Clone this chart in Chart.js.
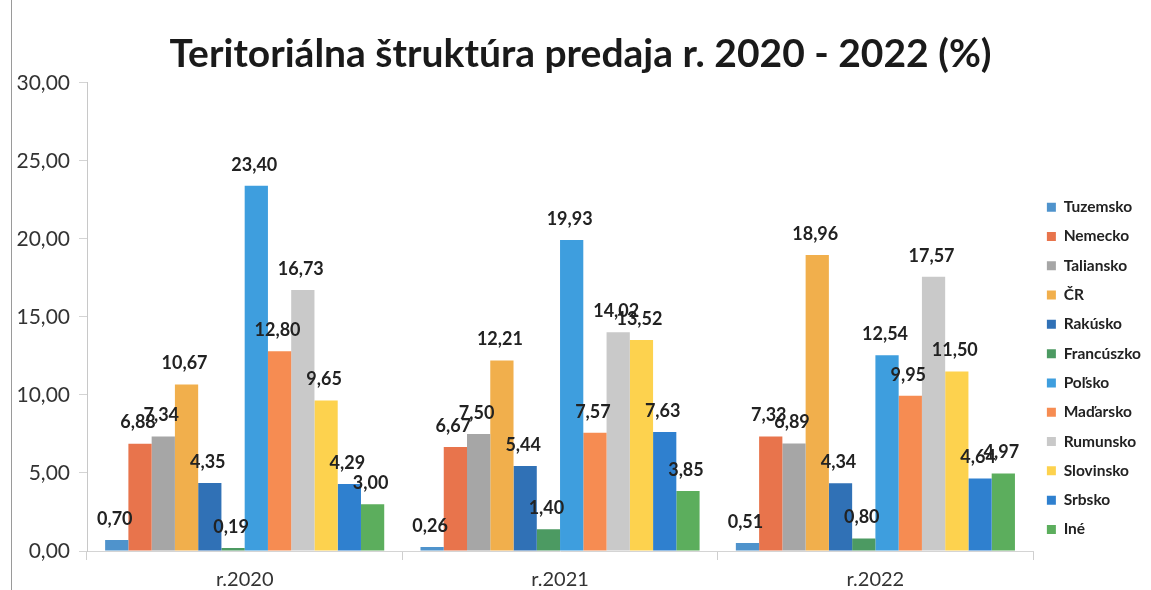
<!DOCTYPE html>
<html>
<head>
<meta charset="utf-8">
<script src="https://cdn.jsdelivr.net/npm/chart.js@4/dist/chart.umd.min.js"></script>
<style>
  html, body { margin: 0; padding: 0; background: #fff; }
  #wrap { position: relative; width: 1151px; height: 590px; }
  #edge { position: absolute; left: 11px; top: 0; width: 0; height: 590px; border-left: 1px solid #9a9a9a; }
  canvas { position: absolute; left: 0; top: 0; }
</style>
</head>
<body>
<div id="wrap">
  <canvas id="chart" width="1151" height="590"></canvas>
  <div id="edge"></div>
</div>
<script>
// ── Data ─────────────────────────────────────────────
const years = ['r.2020', 'r.2021', 'r.2022'];
const countries = ['Tuzemsko', 'Nemecko', 'Taliansko', 'ČR', 'Rakúsko', 'Francúszko',
  'Poľsko', 'Maďarsko', 'Rumunsko', 'Slovinsko', 'Srbsko', 'Iné'];
const share2020 = [0.70, 6.88, 7.34, 10.67, 4.35, 0.19, 23.40, 12.80, 16.73, 9.65, 4.29, 3.00];
const share2021 = [0.26, 6.67, 7.50, 12.21, 5.44, 1.40, 19.93, 7.57, 14.02, 13.52, 7.63, 3.85];
const share2022 = [0.51, 7.33, 6.89, 18.96, 4.34, 0.80, 12.54, 9.95, 17.57, 11.50, 4.64, 4.97];
const yTicks = [0, 5, 10, 15, 20, 25, 30];

const colors = ['#4F93CC', '#E8744C', '#A6A6A6', '#F1AF4C', '#3071B6', '#4C9A62',
  '#3E9EDE', '#F68C52', '#C9C9C9', '#FDD24E', '#2F80CF', '#5CAE5D'];

const fmt = v => v.toFixed(2).replace('.', ',');
const FONT = 'Lato, "Open Sans", sans-serif';

// labels drawn above each bar
const valueLabels = {
  id: 'valueLabels',
  afterDatasetsDraw(chart) {
    const ctx = chart.ctx;
    ctx.save();
    ctx.font = 'bold 18px ' + FONT;
    ctx.fillStyle = '#222';
    ctx.textAlign = 'center';
    ctx.textBaseline = 'middle';
    chart.data.datasets.forEach((ds, i) => {
      const meta = chart.getDatasetMeta(i);
      meta.data.forEach((bar, j) => {
        ctx.fillText(fmt(ds.data[j]), bar.x - 2, bar.y - 21);
      });
    });
    ctx.restore();
  }
};

const datasets = countries.map((name, i) => ({
  label: name,
  data: [share2020[i], share2021[i], share2022[i]],
  backgroundColor: colors[i],
  borderWidth: 0,
  barPercentage: 1.0,
  categoryPercentage: 0.885,
}));

new Chart(document.getElementById('chart'), {
  type: 'bar',
  data: { labels: years, datasets },
  plugins: [valueLabels],
  options: {
    responsive: false,
    animation: false,
    layout: { padding: { left: 10, right: 0, top: 0, bottom: 0 } },
    plugins: {
      title: {
        display: true,
        text: 'Teritoriálna štruktúra predaja r. 2020 - 2022 (%)',
        color: '#1a1a1a',
        font: { family: FONT, size: 39, weight: 'bold' },
        padding: { top: 31, bottom: 5 },
      },
      legend: {
        position: 'right',
        align: 'end',
        fullSize: false,
        labels: {
          color: '#222',
          font: { family: FONT, size: 15.5, weight: 'bold' },
          boxWidth: 9,
          boxHeight: 9,
          padding: 13.8,
        },
      },
      tooltip: { enabled: false },
    },
    scales: {
      x: {
        afterFit: s => { s.height = 39; },
        grid: { drawOnChartArea: false, color: '#cfcfcf', tickLength: 9 },
        border: { color: '#d4d4d4' },
        ticks: { color: '#333', font: { family: FONT, size: 20 }, padding: 8 },
      },
      y: {
        min: 0,
        max: 30,
        afterBuildTicks: s => { s.ticks = yTicks.map(v => ({ value: v })); },
        afterFit: s => { s.width = 77; },
        grid: { drawOnChartArea: false, color: '#d4d4d4', tickLength: 8 },
        border: { color: '#c8c8c8' },
        ticks: { color: '#333', font: { family: FONT, size: 21 }, padding: 9, callback: v => fmt(v) },
      },
    },
  },
});
</script>
</body>
</html>
